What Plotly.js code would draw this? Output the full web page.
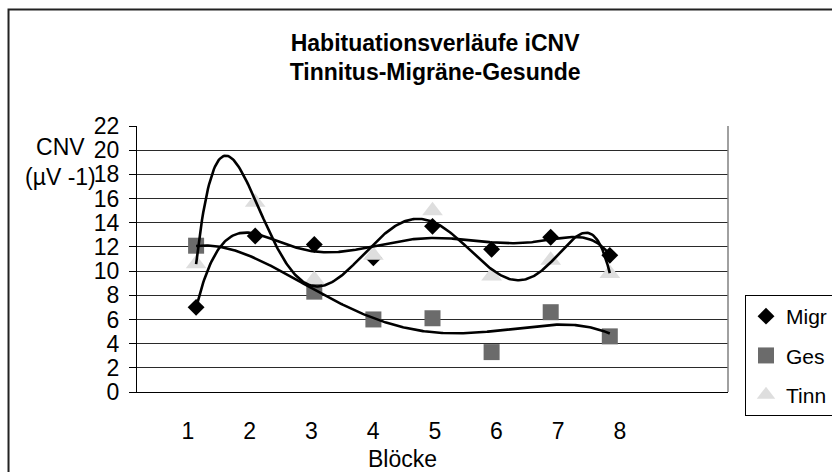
<!DOCTYPE html>
<html>
<head>
<meta charset="utf-8">
<script src="https://cdn.plot.ly/plotly-3.0.1.min.js"></script>
<style>
  html, body { margin: 0; padding: 0; background: #fff; }
  #chart { width: 832px; height: 472px; }
</style>
</head>
<body>
<div id="chart"></div>
<script>
// ---- data ----
const blocks = [1, 2, 3, 4, 5, 6, 7, 8];
const migr = [7.0, 12.9, 12.2, 11.1, 13.7, 11.8, 12.8, 11.3];
const ges  = [12.1, null, 8.3, 6.0, 6.1, 3.3, 6.6, 4.6];
const tinn = [10.6, 15.7, 9.3, 11.3, 15.0, 9.6, 10.9, 9.8];
const seriesNames = ['Migr', 'Ges', 'Tinn'];
const yTicks = [0, 2, 4, 6, 8, 10, 12, 14, 16, 18, 20, 22];
const titleText = 'Habituationsverläufe iCNV<br>Tinnitus-Migräne-Gesunde';
const yTitleText = 'CNV<br>(µV -1)';
const xTitleText = 'Blöcke';

// polynomial trendline orders (as in the original spreadsheet trendlines)
const trendOrder = [6, 4, 6];

// least-squares polynomial fit (skips missing values)
function polyfit(xs, ys, order) {
  const pts = [];
  xs.forEach((x, i) => { if (ys[i] !== null && ys[i] !== undefined) pts.push([x - 4.5, ys[i]]); });
  const n = order + 1;
  const M = Array.from({length: n}, () => new Array(n + 1).fill(0));
  pts.forEach(([x, y]) => {
    for (let r = 0; r < n; r++) {
      for (let c = 0; c < n; c++) M[r][c] += Math.pow(x, r + c);
      M[r][n] += y * Math.pow(x, r);
    }
  });
  for (let i = 0; i < n; i++) {
    let p = i;
    for (let r = i + 1; r < n; r++) if (Math.abs(M[r][i]) > Math.abs(M[p][i])) p = r;
    [M[i], M[p]] = [M[p], M[i]];
    for (let r = 0; r < n; r++) {
      if (r === i) continue;
      const f = M[r][i] / M[i][i];
      for (let c = i; c <= n; c++) M[r][c] -= f * M[i][c];
    }
  }
  const coef = M.map((row, i) => row[n] / row[i]);
  return x => coef.reduce((s, a, k) => s + a * Math.pow(x - 4.5, k), 0);
}

const values = [migr, ges, tinn];
const markerStyles = [
  {symbol: 'diamond', color: '#000000', size: 13},
  {symbol: 'square', color: '#6b6b6b', size: 16},
  {symbol: 'triangle-up', color: '#dedede', size: 18}
];

const traces = [];
values.forEach((ys, i) => {
  traces.push({
    type: 'scatter', mode: 'markers', name: seriesNames[i],
    x: blocks, y: ys, legendgroup: seriesNames[i],
    marker: {symbol: markerStyles[i].symbol, color: markerStyles[i].color, size: markerStyles[i].size,
             line: {width: 0}},
    cliponaxis: false
  });
});
const xFine = [];
for (let x = blocks[0]; x <= blocks[blocks.length - 1] + 1e-9; x += 0.02) xFine.push(x);
values.forEach((ys, i) => {
  const f = polyfit(blocks, ys, trendOrder[i]);
  traces.push({
    type: 'scatter', mode: 'lines', showlegend: false, hoverinfo: 'skip',
    x: xFine, y: xFine.map(f),
    line: {color: '#000000', width: 2.6}
  });
});

// tick labels in the original sit slightly offset from the data points
const xTickVals = blocks.map(b => 0.863 + (b - 1) * 1.044);

const layout = {
  width: 832, height: 472,
  margin: {l: 137, r: 104, t: 126, b: 80, autoexpand: false},
  paper_bgcolor: '#ffffff', plot_bgcolor: '#ffffff',
  font: {family: 'Liberation Sans, Arial, sans-serif', color: '#000', size: 23},
  title: {text: titleText, font: {size: 23, color: '#000', weight: 'bold'},
          x: 0.523, xanchor: 'center', y: 0.893, yanchor: 'middle'},
  showlegend: true,
  legend: {x: 1.0288, xanchor: 'left', y: 0.3647, yanchor: 'top',
           bgcolor: '#ffffff', bordercolor: '#000', borderwidth: 1,
           font: {size: 21}, tracegroupgap: 9, itemwidth: 30},
  xaxis: {range: [0, 10], tickmode: 'array', tickvals: xTickVals, ticktext: blocks.map(String),
          ticks: '', showgrid: false, zeroline: false, showline: true, linecolor: '#000', linewidth: 1,
          ticklabelstandoff: 18, tickfont: {size: 23}, fixedrange: true},
  yaxis: {range: [0, 22], tickmode: 'array', tickvals: yTicks, ticks: 'outside', ticklen: 7,
          tickcolor: '#000', showgrid: true, gridcolor: '#2a2a2a', gridwidth: 1, zeroline: false,
          showline: true, linecolor: '#000', linewidth: 1, ticklabelstandoff: 5,
          tickfont: {size: 23}, fixedrange: true},
  shapes: [
    {type: 'rect', xref: 'paper', yref: 'paper', x0: -0.2174, x1: 1.8, y0: -0.6, y1: 1.438,
     line: {color: '#222', width: 2}, layer: 'below'},
    {type: 'line', xref: 'paper', yref: 'paper', x0: 1, x1: 1, y0: 0, y1: 1,
     line: {color: '#808080', width: 1.5}}
  ],
  annotations: [
    {text: yTitleText, xref: 'paper', yref: 'paper', x: -0.1286, y: 0.8647, xanchor: 'center', yanchor: 'middle',
     showarrow: false, font: {size: 23}},
    {text: xTitleText, xref: 'paper', yref: 'paper', x: (402 - 137) / 591, y: -0.252, xanchor: 'center', yanchor: 'middle',
     showarrow: false, font: {size: 23}}
  ]
};

Plotly.newPlot('chart', traces, layout, {staticPlot: true, displayModeBar: false});
</script>
</body>
</html>
